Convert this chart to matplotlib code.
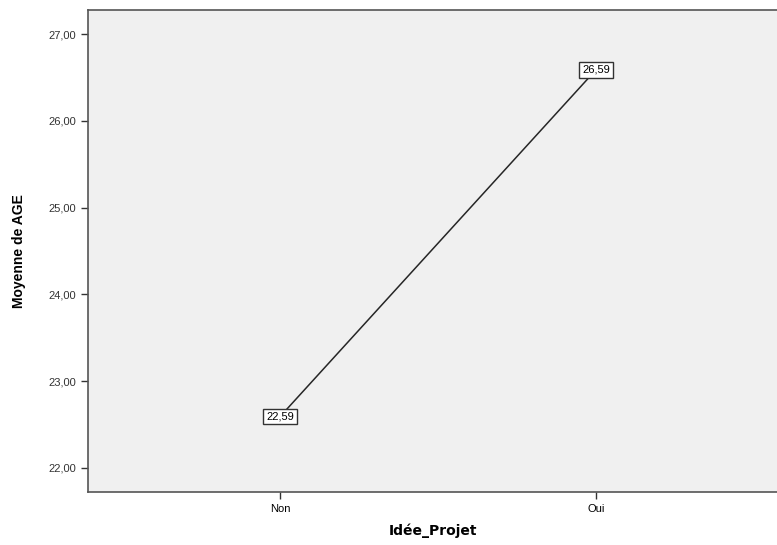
import matplotlib.pyplot as plt

categories = ["Non", "Oui"]
moyennes = [22.59, 26.59]
etiquettes = ["22,59", "26,59"]
yticks = [22, 23, 24, 25, 26, 27]
ylabels = ["22,00", "23,00", "24,00", "25,00", "26,00", "27,00"]

fig = plt.figure(figsize=(7.77, 5.45), dpi=100)
ax = fig.add_axes([88 / 777, 1 - 492 / 545, 1 - 88 / 777, (492 - 10) / 545])
ax.set_facecolor("#f0f0f0")

x = list(range(len(categories)))
ax.plot(x, moyennes, color="#262626", lw=1.1)

# etiquettes des points
for xi, yi, t in zip(x, moyennes, etiquettes):
    ax.text(xi, yi, t, ha="center", va="center", fontsize=8, family="Liberation Sans",
            bbox=dict(boxstyle="square,pad=0.25", fc="white", ec="#333333", lw=1))

ax.set_xlim(-0.608, 1.573)
ax.set_ylim(21.72, 27.28)
ax.set_xticks(x)
ax.set_xticklabels(categories, fontsize=8, family="Liberation Sans")
ax.set_yticks(yticks)
ax.set_yticklabels(ylabels, fontsize=8, family="Liberation Sans", color="#333333")
ax.tick_params(direction="out", length=5, color="#333333", width=1)

ax.spines["right"].set_visible(False)
for s in ["left", "top", "bottom"]:
    ax.spines[s].set_color("#555555")
    ax.spines[s].set_linewidth(1.2)

ax.set_xlabel("Idée_Projet", fontsize=10, fontweight="bold", family="DejaVu Sans", labelpad=7)
ax.set_ylabel("Moyenne de AGE", fontsize=10, fontweight="bold", family="Liberation Sans", labelpad=16)

fig.savefig("out.png", dpi=100)
